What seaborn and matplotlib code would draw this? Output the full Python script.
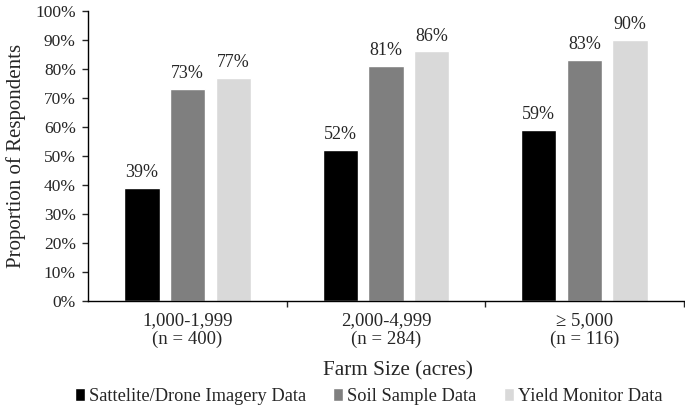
import matplotlib
matplotlib.use("Agg")
import matplotlib.pyplot as plt
import seaborn as sns
import pandas as pd
from matplotlib.ticker import PercentFormatter

# data
farm_sizes = ["1,000-1,999\n(n = 400)", "2,000-4,999\n(n = 284)", "\u2265 5,000\n(n = 116)"]
data_types = ["Sattelite/Drone Imagery Data", "Soil Sample Data", "Yield Monitor Data"]
satellite = [39, 52, 59]
soil = [73, 81, 83]
yield_monitor = [77, 86, 90]
colors = ["#000000", "#7f7f7f", "#d9d9d9"]

df = pd.DataFrame({
    "Farm Size": farm_sizes * 3,
    "Data": [d for d in data_types for _ in farm_sizes],
    "Share": satellite + soil + yield_monitor,
})

sns.set_style("white")
plt.rcParams["font.family"] = ["Liberation Serif", "DejaVu Serif"]

fig = plt.figure(figsize=(6.85, 4.15), dpi=100)
ax = fig.add_axes([0.129, 0.274, 0.869, 0.700])

sns.barplot(data=df, x="Farm Size", y="Share", hue="Data", hue_order=data_types,
            palette=colors, width=0.69, gap=0.23, saturation=1, ax=ax)

for cont in ax.containers:
    ax.bar_label(cont, fmt="{:.0f}%", padding=5, fontsize=13)

ax.set_ylim(0, 100)
ax.set_xlim(-0.5, 2.5)
ax.set_yticks(range(0, 101, 10))
ax.yaxis.set_major_formatter(PercentFormatter(decimals=0))
ax.tick_params(axis="y", left=True, direction="out", length=4.5, width=1, labelsize=12.5, pad=4.5)
ax.tick_params(axis="x", which="major", bottom=False, length=0, labelsize=13.5, pad=7.5)
for lbl in ax.get_xticklabels():
    lbl.set_linespacing(1.15)
ax.set_xticks([0.5, 1.5, 2.5], minor=True)
ax.tick_params(axis="x", which="minor", bottom=True, direction="out", length=4.5, width=1)

for side in ["top", "right"]:
    ax.spines[side].set_visible(False)
for side in ["left", "bottom"]:
    ax.spines[side].set_color("black")
    ax.spines[side].set_linewidth(1)

ax.set_xlabel("Farm Size (acres)", fontsize=15.3, labelpad=6)
ax.xaxis.set_label_coords(0.52, -0.205)
ax.set_ylabel("Proportion of Respondents", fontsize=15, labelpad=7)

handles, labels = ax.get_legend_handles_labels()
ax.legend_.remove()
fig.legend(handles, labels, loc="lower center", bbox_to_anchor=(0.538, -0.015), ncol=3,
           frameon=False, fontsize=13.2, handlelength=0.55, handleheight=0.7,
           handletextpad=0.2, columnspacing=1.5)

fig.savefig("out.png", dpi=100)
